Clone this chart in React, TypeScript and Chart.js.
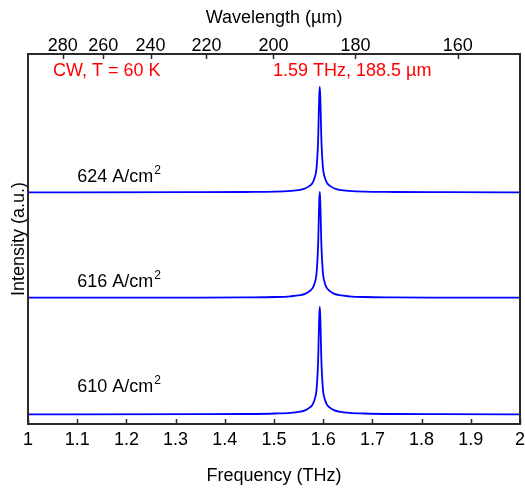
import React, { useEffect, useRef } from 'react';
import { Chart, registerables } from 'chart.js';

Chart.register(...registerables);

// ---- data ----
const frequencyTHz = [
  1.0, 1.343, 1.443, 1.503, 1.533, 1.553, 1.563, 1.573, 1.579, 1.583, 1.586, 1.588, 1.589, 1.59, 1.591, 1.592,
  1.593,
  1.594, 1.595, 1.596, 1.597, 1.598, 1.6, 1.603, 1.607, 1.613, 1.623, 1.633, 1.653, 1.683, 1.743, 1.843, 2.0,
];

const trace624 = [
  2.317, 2.318, 2.32, 2.324, 2.331, 2.342, 2.355, 2.384, 2.417, 2.47, 2.538, 2.664, 2.759, 2.896, 3.107, 3.286,
  3.37,
  3.286, 3.107, 2.896, 2.759, 2.664, 2.538, 2.47, 2.417, 2.384, 2.355, 2.342, 2.331, 2.324, 2.32, 2.318, 2.317,
];

const trace616 = [
  1.263, 1.264, 1.266, 1.27, 1.277, 1.288, 1.301, 1.331, 1.363, 1.416, 1.485, 1.612, 1.707, 1.844, 2.056, 2.235,
  2.32,
  2.235, 2.056, 1.844, 1.707, 1.612, 1.485, 1.416, 1.363, 1.331, 1.301, 1.288, 1.277, 1.27, 1.266, 1.264, 1.263,
];

const trace610 = [
  0.097, 0.098, 0.1, 0.105, 0.111, 0.123, 0.136, 0.166, 0.199, 0.253, 0.322, 0.451, 0.548, 0.687, 0.902, 1.084,
  1.17,
  1.084, 0.902, 0.687, 0.548, 0.451, 0.322, 0.253, 0.199, 0.166, 0.136, 0.123, 0.111, 0.105, 0.1, 0.098, 0.097,
];

const seriesNames = ['624 A/cm', '616 A/cm', '610 A/cm'];
const seriesLabelLevels = [2.423, 1.373, 0.323];
const seriesLabelFreq = 1.1;

const freqTicks = [1, 1.1, 1.2, 1.3, 1.4, 1.5, 1.6, 1.7, 1.8, 1.9, 2];
const freqTickLabels = ['1', '1.1', '1.2', '1.3', '1.4', '1.5', '1.6', '1.7', '1.8', '1.9', '2'];
const wavelengthTicks = [280, 260, 240, 220, 200, 180, 160];
const C_UM_THZ = 299.792458;

const noteTexts = ['CW, T = 60 K', '1.59 THz, 188.5 \u00b5m'];
const noteFreqs = [1.051, 1.498];
const noteLevel = 3.48;

const FONT = '"Liberation Sans", Arial, Helvetica, sans-serif';

const decorPlugin = {
  id: 'decor',
  afterDatasetsDraw(chart: any) {
    const { ctx, chartArea: a, scales } = chart;
    const x = scales.x;
    const x2 = scales.x2;
    const y = scales.y;
    ctx.save();
    // frame
    ctx.strokeStyle = '#2a2a2a';
    ctx.lineWidth = 2;
    ctx.strokeRect(a.left, a.top, a.right - a.left, a.bottom - a.top);
    // inward ticks
    ctx.lineWidth = 1.5;
    ctx.beginPath();
    x.ticks.forEach((t: any) => {
      const px = Math.round(x.getPixelForValue(t.value)) + 0.5;
      ctx.moveTo(px, a.bottom);
      ctx.lineTo(px, a.bottom - 5);
    });
    x2.ticks.forEach((t: any) => {
      const px = Math.round(x2.getPixelForValue(t.value)) + 0.5;
      ctx.moveTo(px, a.top);
      ctx.lineTo(px, a.top + 5);
    });
    ctx.stroke();
    // series labels
    ctx.fillStyle = '#000';
    ctx.textBaseline = 'alphabetic';
    ctx.textAlign = 'left';
    seriesNames.forEach((name, i) => {
      const px = x.getPixelForValue(seriesLabelFreq);
      const py = y.getPixelForValue(seriesLabelLevels[i]);
      ctx.font = '18px ' + FONT;
      ctx.fillText(name, px, py);
      const w = ctx.measureText(name).width;
      ctx.font = '12px ' + FONT;
      ctx.fillText('2', px + w + 1, py - 8);
    });
    // red notes
    ctx.fillStyle = '#ff0000';
    ctx.font = '18px ' + FONT;
    noteTexts.forEach((t, i) => {
      ctx.fillText(t, x.getPixelForValue(noteFreqs[i]), y.getPixelForValue(noteLevel));
    });
    ctx.restore();
  },
};

export default function App() {
  const ref = useRef<HTMLCanvasElement>(null);

  useEffect(() => {
    if (!ref.current) return;
    Chart.defaults.font.family = FONT;
    const mk = (vals: number[]) => frequencyTHz.map((f, i) => ({ x: f, y: vals[i] }));
    const ds = (label: string, vals: number[]) => ({
      label,
      data: mk(vals),
      borderColor: '#0000ff',
      borderWidth: 1.8,
      pointRadius: 0,
      cubicInterpolationMode: 'monotone' as const,
      fill: false,
    });
    const chart = new Chart(ref.current, {
      type: 'line',
      data: {
        datasets: [ds('624', trace624), ds('616', trace616), ds('610', trace610)],
      },
      options: {
        animation: false,
        responsive: false,
        layout: { padding: { left: 0, right: 5, top: 0, bottom: 0 } },
        plugins: { legend: { display: false }, tooltip: { enabled: false } },
        scales: {
          x: {
            type: 'linear',
            position: 'bottom',
            min: 1,
            max: 2,
            grid: { display: false, drawTicks: false },
            border: { display: false },
            afterBuildTicks: (s: any) => {
              s.ticks = freqTicks.map((v) => ({ value: v }));
            },
            afterFit: (s: any) => {
              s.height = 65;
              s.paddingLeft = 0;
              s.paddingRight = 0;
            },
            ticks: {
              autoSkip: false,
              maxRotation: 0,
              padding: 5,
              color: '#000',
              font: { size: 18 },
              callback: (_v: any, i: number) => freqTickLabels[i],
            },
            title: {
              display: true,
              text: 'Frequency (THz)',
              color: '#000',
              font: { size: 18 },
              padding: { top: 0, bottom: 2.4 },
            },
          },
          x2: {
            type: 'linear',
            position: 'top',
            min: 1,
            max: 2,
            grid: { display: false, drawTicks: false },
            border: { display: false },
            afterBuildTicks: (s: any) => {
              s.ticks = wavelengthTicks.map((w) => ({ value: C_UM_THZ / w }));
            },
            afterFit: (s: any) => {
              s.height = 54;
              s.paddingLeft = 0;
              s.paddingRight = 0;
            },
            ticks: {
              autoSkip: false,
              maxRotation: 0,
              padding: -3,
              color: '#000',
              font: { size: 18 },
              callback: (_v: any, i: number) => String(wavelengthTicks[i]),
            },
            title: {
              display: true,
              text: 'Wavelength (\u00b5m)',
              color: '#000',
              font: { size: 18 },
              padding: { top: 7.2, bottom: 0 },
            },
          },
          y: {
            type: 'linear',
            min: 0,
            max: 3.7,
            grid: { display: false, drawTicks: false },
            border: { display: false },
            ticks: { display: false },
            afterFit: (s: any) => {
              s.width = 28;
            },
            title: {
              display: true,
              text: 'Intensity (a.u.)',
              color: '#000',
              font: { size: 18 },
              padding: { top: 8, bottom: 0 },
            },
          },
        },
      },
      plugins: [decorPlugin],
    });
    return () => chart.destroy();
  }, []);

  return (
    <div style={{ position: 'absolute', left: 0, top: 0, width: 525, height: 489, background: '#fff' }}>
      <canvas ref={ref} width={525} height={489} style={{ width: 525, height: 489, display: 'block' }} />
    </div>
  );
}
